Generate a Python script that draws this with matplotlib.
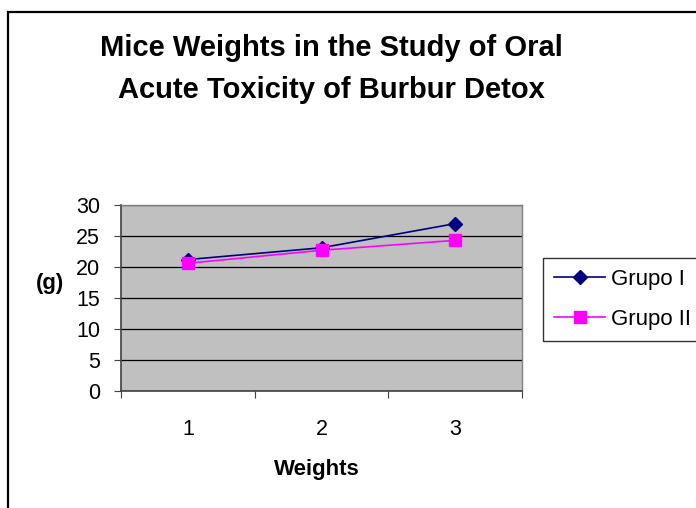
import matplotlib
matplotlib.use("Agg")
import matplotlib.pyplot as plt
from matplotlib.patches import Rectangle

plt.rcParams['font.family'] = ['Liberation Sans', 'DejaVu Sans']

categories = ['1', '2', '3']
grupo_1 = [21.2, 23.1, 27.0]
grupo_2 = [20.6, 22.7, 24.3]
series_names = ['Grupo I', 'Grupo II']
y_ticks = [0, 5, 10, 15, 20, 25, 30]
title_lines = ['Mice Weights in the Study of Oral', 'Acute Toxicity of Burbur Detox']

fig = plt.figure(figsize=(6.96, 5.08), dpi=100)
fig.patch.set_facecolor('white')

# outer chart border (only top and left visible in the crop)
fig.add_artist(Rectangle((8 / 696, -0.1), 1.2, 1 - 12 / 508 + 0.1,
                         transform=fig.transFigure, fill=False,
                         edgecolor='black', linewidth=1.6))

ax = fig.add_axes([121 / 696, 1 - 391 / 508, (522 - 121) / 696, (391 - 205) / 508])
ax.set_facecolor('#C0C0C0')

xpos = [i + 0.5 for i in range(len(categories))]
ax.plot(xpos, grupo_1, color='#000080', marker='D', markersize=7,
        linewidth=1.2, label=series_names[0])
ax.plot(xpos, grupo_2, color='#FF00FF', marker='s', markersize=8,
        linewidth=1.2, label=series_names[1])

ax.set_xlim(0, len(categories))
ax.set_ylim(0, 30)
ax.set_yticks(y_ticks)
ax.set_yticklabels([str(v) for v in y_ticks], fontsize=15.5)
ax.set_xticks(range(len(categories) + 1))
ax.set_xticklabels([])
ax.set_xticks(xpos, minor=True)
ax.set_xticklabels(categories, minor=True, fontsize=15.5)
ax.tick_params(axis='x', which='minor', length=0, pad=20)
ax.tick_params(axis='x', which='major', length=5, direction='out', color='#404040')
ax.tick_params(axis='y', length=5, direction='out', color='#404040', pad=10)

ax.grid(axis='y', color='black', linewidth=0.9)
ax.set_axisbelow(True)
for side in ['left', 'bottom']:
    ax.spines[side].set_color('#404040')
    ax.spines[side].set_linewidth(1.2)
for side in ['top', 'right']:
    ax.spines[side].set_color('#808080')
    ax.spines[side].set_linewidth(1.0)

fig.text(317 / 696, 1 - 469 / 508, 'Weights', ha='center', va='center',
         fontsize=16, fontweight='bold')
fig.text(50 / 696, 1 - 283 / 508, '(g)', ha='center', va='center',
         fontsize=16, fontweight='bold')

for line, ypix in zip(title_lines, [48, 90]):
    fig.text(331 / 696, 1 - ypix / 508, line, ha='center', va='center',
             fontsize=21, fontweight='bold')

leg = fig.legend(loc='upper left', bbox_to_anchor=(543 / 696, 1 - 258 / 508),
                 fontsize=16, frameon=True, fancybox=False, edgecolor='black',
                 handlelength=2.3, handletextpad=0.27, borderpad=0.5,
                 labelspacing=0.85, borderaxespad=0)
leg.get_frame().set_linewidth(1.0)

fig.savefig('out.png', dpi=100)
